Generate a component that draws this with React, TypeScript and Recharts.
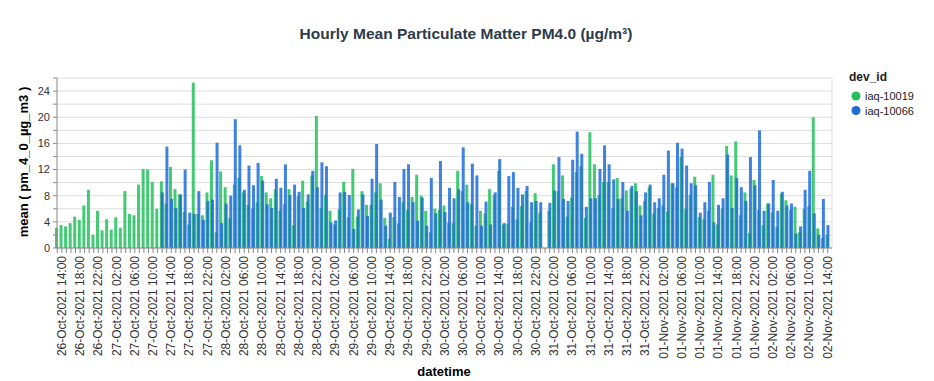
import React from 'react';
import { BarChart, Bar, XAxis, YAxis, CartesianGrid } from 'recharts';

// hourly slots starting 26-Oct-2021 13:00
const START_HOUR = Date.UTC(2021, 9, 26, 13);
const SLOT_COUNT = 170;
const MONTHS = ['Jan', 'Feb', 'Mar', 'Apr', 'May', 'Jun', 'Jul', 'Aug', 'Sep', 'Oct', 'Nov', 'Dec'];
const LABEL_HOURS = [2, 6, 10, 14, 18, 22];

const pad2 = (n: number) => (n < 10 ? '0' + n : String(n));

const hours: string[] = [];
for (let i = 0; i < SLOT_COUNT; i++) {
  const d = new Date(START_HOUR + i * 3600000);
  hours.push(`${pad2(d.getUTCDate())}-${MONTHS[d.getUTCMonth()]}-2021 ${pad2(d.getUTCHours())}:00`);
}

const iaq10019 = [
  3.1, 3.5, 3.3, 3.8, 4.8, 4.3, 6.5, 8.9, 2.0, 5.7,
  2.7, 4.4, 2.8, 4.7, 3.1, 8.7, 5.2, 5.0, 9.7, 12.1,
  12.0, 10.1, 6.0, 10.2, 6.8, 12.4, 9.0, 8.2, 5.5, 3.6,
  25.3, 5.2, 5.0, 8.5, 13.4, 2.4, 11.7, 9.3, 4.6, 9.7,
  10.7, 8.5, 6.6, 6.0, 7.0, 11.0, 8.5, 7.6, 9.0, 5.7,
  6.7, 9.0, 3.5, 7.9, 10.3, 7.1, 11.1, 20.2, 6.1, 8.1,
  5.7, 3.6, 5.9, 10.1, 4.7, 12.1, 4.8, 8.7, 6.6, 6.6,
  8.5, 9.9, 4.6, 1.4, 4.7, 3.8, 7.0, 5.8, 7.8, 11.2,
  8.0, 5.7, 2.4, 6.0, 5.8, 6.5, 3.9, 3.8, 11.8, 8.7,
  9.7, 6.7, 3.4, 5.7, 5.3, 9.0, 8.1, 11.8, 3.6, 3.7,
  6.3, 4.4, 6.4, 8.7, 3.9, 8.4, 5.4, null, 5.7, 12.8,
  8.7, 11.1, 4.8, 7.7, 11.6, 12.5, 4.6, 17.7, 12.8, 8.1,
  10.1, 10.1, 6.1, 10.7, 7.6, 8.8, 9.1, 9.9, 6.5, 7.2,
  9.3, 5.3, 6.1, 6.5, 5.6, 9.9, 9.3, 13.9, 6.0, 8.1,
  10.9, 4.7, 4.4, 5.7, 11.2, 3.6, 6.0, 15.6, 11.1, 16.3,
  5.0, 8.5, 2.3, 10.4, 5.8, 3.5, 6.8, 5.4, 3.2, 8.3,
  7.3, 5.8, 6.3, 2.4, 6.0, 6.4, 20.0, 3.0, 1.5, 2.0,
];

const iaq10066 = [
  null, null, null, null, null, null, null, null, null, null,
  null, null, null, null, null, null, null, null, null, null,
  null, null, null, 8.5, 15.5, 7.5, 6.1, 8.2, 12.0, 5.4,
  5.2, 8.7, 4.3, 7.2, 7.4, 16.1, 3.8, 6.8, 8.0, 19.7,
  15.7, 8.9, 12.6, 9.6, 13.0, 10.3, 6.7, 6.1, 10.6, 9.2,
  12.8, 8.1, 9.7, 8.6, 6.1, 8.2, 11.8, 9.3, 13.1, 12.5,
  3.9, 4.2, 8.5, 8.6, 8.1, 2.9, 5.9, 8.2, 4.9, 10.6,
  15.9, 7.4, 3.4, 5.4, 10.1, 7.8, 12.1, 12.8, 7.0, 4.2,
  7.7, 3.4, 10.7, 5.3, 13.3, 5.5, 9.2, 7.6, 9.0, 15.4,
  7.0, 12.9, 11.1, 3.4, 7.1, 3.6, 8.5, 13.6, 3.8, 11.0,
  11.6, 9.2, 8.2, 9.5, 7.0, 7.2, 7.0, null, 6.9, 8.8,
  13.9, 7.5, 7.2, 13.5, 17.8, 14.4, 6.3, 7.6, 7.6, 12.1,
  15.7, 12.8, 10.5, 7.5, 10.1, 5.7, 9.5, 8.7, 5.0, 8.5,
  9.7, 7.0, 7.6, 11.2, 14.9, 9.9, 16.1, 15.2, 12.6, 9.9,
  9.6, 5.4, 7.0, 10.1, 3.9, 6.6, 7.6, 14.3, 6.1, 10.7,
  9.3, 7.2, 13.9, 9.6, 18.0, 5.7, 6.8, 10.4, 5.7, 8.6,
  6.5, 6.8, 2.2, 3.3, 8.9, 11.8, 5.3, 2.0, 7.5, 3.5,
];

const yTicks = [0, 2, 4, 6, 8, 10, 12, 14, 16, 18, 20, 22, 24, 26];

const series = [
  { key: 'iaq-10019', color: '#22c15c' },
  { key: 'iaq-10066', color: '#1f6cd9' },
];

const data = hours.map((t, i) => ({
  t,
  'iaq-10019': iaq10019[i],
  'iaq-10066': iaq10066[i],
}));

const FONT = '"Liberation Sans", Arial, sans-serif';

const showLabel = (t: string) => LABEL_HOURS.includes(parseInt(t.slice(12, 14), 10));

const XTick = ({ x, y, payload }: any) => {
  if (!payload || !showLabel(payload.value)) return null;
  const tx = x + 4;
  const ty = y + 1;
  return (
    <text x={tx} y={ty} transform={`rotate(-90 ${tx} ${ty})`} textAnchor="end" fontSize={12} fill="#333" fontFamily={FONT}>
      {payload.value}
    </text>
  );
};

export default function App() {
  return (
    <div style={{ position: 'absolute', left: 0, top: 0, width: 934, height: 381, background: '#fff', fontFamily: FONT }}>
      <BarChart
        width={934}
        height={381}
        data={data}
        margin={{ top: 78, right: 102, left: 0, bottom: 0 }}
        barCategoryGap={0}
        barGap={-2}
      >
        <CartesianGrid stroke="#ddd" horizontal vertical verticalPoints={[832]} />
        <XAxis
          dataKey="t"
          interval={0}
          height={133}
          tick={<XTick />}
          tickSize={5}
          tickLine={{ stroke: '#888' }}
          axisLine={{ stroke: '#888' }}
          padding={{ left: -2, right: 2 }}
        />
        <YAxis
          width={57}
          domain={[0, 26]}
          ticks={yTicks}
          interval={0}
          tickSize={4}
          tickMargin={3}
          tickFormatter={(v: number) => (v % 4 === 0 ? String(v) : '')}
          tick={{ fontSize: 11, fill: '#333', fontFamily: FONT }}
          tickLine={{ stroke: '#888' }}
          axisLine={{ stroke: '#888' }}
        />
        {series.map((s) => (
          <Bar key={s.key} dataKey={s.key} fill={s.color} fillOpacity={0.85} barSize={3} isAnimationActive={false} />
        ))}
      </BarChart>
      <svg width={934} height={381} style={{ position: 'absolute', left: 0, top: 0, pointerEvents: 'none' }}>
        <text x={466} y={39} textAnchor="middle" fontSize={15.5} fontWeight="bold" fill="#2d3a4a" fontFamily={FONT}>
          Hourly Mean Particulate Matter PM4.0 (µg/m³)
        </text>
        <text x={28} y={162} transform="rotate(-90 28 162)" textAnchor="middle" fontSize={13} fontWeight="bold" fill="#000" fontFamily={FONT}>
          mean ( pm_4_0_µg_m3 )
        </text>
        <text x={444} y={376} textAnchor="middle" fontSize={13} fontWeight="bold" fill="#000" fontFamily={FONT}>
          datetime
        </text>
        <text x={849} y={81} fontSize={12} fontWeight="bold" fill="#222" fontFamily={FONT}>
          dev_id
        </text>
        {series.map((s, i) => (
          <g key={s.key}>
            <circle cx={856} cy={96 + i * 14.5} r={4.5} fill={s.color} />
            <text x={865} y={100 + i * 14.5} fontSize={11} fill="#222" fontFamily={FONT}>
              {s.key}
            </text>
          </g>
        ))}
      </svg>
    </div>
  );
}
